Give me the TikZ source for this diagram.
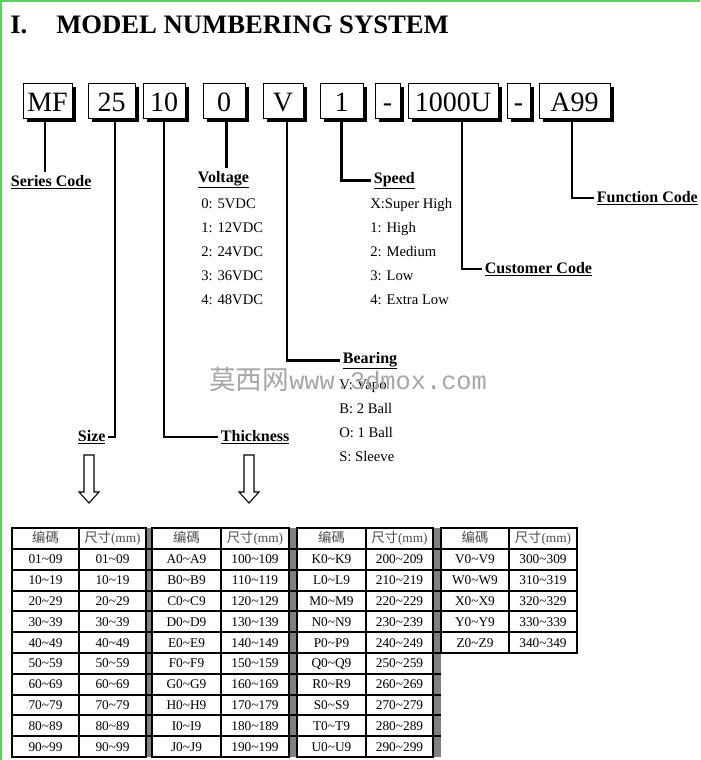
\documentclass[tikz,border=0pt]{standalone}
\usepackage{fontspec}
\setmainfont{Liberation Serif}
\newfontfamily\cjk{Noto Sans CJK SC}
\newfontfamily\wmfont{Liberation Mono}
\usetikzlibrary{shadows}
\definecolor{framegreen}{RGB}{90, 210, 90}
\definecolor{bargray}{RGB}{128, 128, 128}
\newcommand{\tld}{\textasciitilde}

\begin{document}
\begin{tikzpicture}[
    x=0.75pt, y=-0.75pt,
    code/.style={rectangle, draw, thin, fill=white, minimum width=#1, minimum height=26.25pt, inner sep=0pt, font=\fontsize{21}{21}\selectfont, text height=17pt, text depth=0pt, drop shadow={shadow xshift=3pt, shadow yshift=-3pt, fill=black, opacity=1}},
    lead/.style={line width=2pt},
    field/.style={anchor=base west, inner sep=2pt, font=\fontsize{12}{12}\selectfont\bfseries},
    item/.style={anchor=base west, inner sep=0pt, font=\fontsize{11}{11}\selectfont},
    cell/.style={inner sep=0pt, text height=6.6pt, text depth=0pt, font=\fontsize{10}{10}\selectfont},
    head/.style={cell, text=black!70},
    grid/.style={line width=1.5pt},
    hollow/.style={draw, line width=0.8pt, fill=white}
]
\useasboundingbox (0,0) rectangle (700,760);
\draw[framegreen, line width=1.5pt] (0.5,760) -- (0.5,0.5) -- (700,0.5);

\node[anchor=base west, inner sep=0pt, font=\fontsize{20}{20}\selectfont\bfseries] (num) at (10,33) {I.};
\node[anchor=base west, inner sep=0pt, font=\fontsize{20}{20}\selectfont\bfseries] (title) at (56,33) {MODEL NUMBERING SYSTEM};

% code boxes
\node[code=36.75pt] (mf) at (47.5,100.5) {MF};
\node[code=35.25pt] (s25) at (111.5,100.5) {25};
\node[code=31.5pt] (s10) at (164,100.5) {10};
\node[code=31.5pt] (s0) at (224,100.5) {0};
\node[code=30pt] (sv) at (283,100.5) {V};
\node[code=32.25pt] (s1) at (341.5,100.5) {1};
\node[code=18.75pt] (d1) at (387.5,100.5) {-};
\node[code=67.5pt] (cust) at (453,100.5) {1000U};
\node[code=17.25pt] (d2) at (518.5,100.5) {-};
\node[code=53.25pt] (a99) at (574.5,100.5) {A99};

% field names
\node[field] (series) at (8,186) {\underline{Series Code}};
\node[field] (size) at (75,441) {\underline{Size}};
\node[field] (thick) at (218,441) {\underline{Thickness}};
\node[field] (volt) at (195,182) {\underline{Voltage}};
\node[field] (bear) at (340,363) {\underline{Bearing}};
\node[field] (speed) at (371,183) {\underline{Speed}};
\node[field] (custl) at (482,273) {\underline{Customer Code}};
\node[field] (func) at (594,202) {\underline{Function Code}};

\draw[lead] ([xshift=-2pt]mf.south) -- ([xshift=-2pt]mf.south |- series.north);
\draw[lead] ([xshift=2.5pt]s25.south) |- (size.east);
\draw[lead] (s10.south) |- (thick.west);
\draw[lead] ([xshift=2pt]s0.south) -- ([xshift=2pt]s0.south |- volt.north);
\draw[lead] ([xshift=3pt]sv.south) |- (bear.west);
\draw[lead] (s1.south) |- (speed.west);
\draw[lead] ([xshift=6.75pt]cust.south) |- (custl.west);
\draw[lead] ([xshift=-2pt]a99.south) |- (func.west);

% options
\foreach \t [count=\i from 0] in {0: 5VDC, 1: 12VDC, 2: 24VDC, 3: 36VDC, 4: 48VDC}
    \node[item] (volt\i) at (201,208+24*\i) {\t};
\foreach \t [count=\i from 0] in {X:Super High, 1: High, 2: Medium, 3: Low, 4: Extra Low}
    \node[item] (speed\i) at (370,208+24*\i) {\t};
\foreach \t [count=\i from 0] in {V: Vapo, B: 2 Ball, O: 1 Ball, S: Sleeve}
    \node[item] (bear\i) at (339,389+24*\i) {\t};

% watermark
\node[anchor=west, inner sep=0pt, text=black!35] (wm) at (209,379) {{\cjk\fontsize{20}{20}\selectfont 莫西网}{\wmfont\fontsize{19}{19}\selectfont www.3dmox.com}};

% hollow arrows
\foreach \ax in {89, 249}
    \draw[hollow] (\ax-5,455) -- (\ax+5,455) -- (\ax+5,492) -- (\ax+10,492) -- (\ax,503) -- (\ax-10,492) -- (\ax-5,492) -- cycle;

% size table
\foreach \xa/\xb in {146/152, 289/297, 433/441}
    \fill[bargray] (\xa,528) rectangle (\xb,757);
\foreach \xa/\xm/\xb in {12/79/146, 152/221/289, 297/366/433} {
    \draw[grid] (\xa,528) rectangle (\xb,757);
    \draw[grid] (\xm,528) -- (\xm,757);
}
\foreach \r in {0,...,9}
    \draw[grid] (12,549+20.8*\r) -- (441,549+20.8*\r);
\draw[grid] (441,528) rectangle (577,653);
\draw[grid] (509,528) -- (509,653);
\foreach \r in {0,...,4}
    \draw[grid] (441,549+20.8*\r) -- (577,549+20.8*\r);

\foreach \cx/\sx/\g in {45.5/112.5/1, 186.5/255/2, 331.5/399.5/3, 475/543/4} {
    \node[head] (h\g c) at (\cx,538.5) {{\cjk 编碼}};
    \node[head] (h\g s) at (\sx,538.5) {{\cjk 尺寸}(mm)};
}
\foreach \a/\b [count=\r] in {01/09, 10/19, 20/29, 30/39, 40/49, 50/59, 60/69, 70/79, 80/89, 90/99} {
    \node[cell] (g1c\r) at (45.5,538.6+20.8*\r) {\a\tld\b};
    \node[cell] (g1s\r) at (112.5,538.6+20.8*\r) {\a\tld\b};
}
\foreach \ltr/\dec [count=\r] in {A/10, B/11, C/12, D/13, E/14, F/15, G/16, H/17, I/18, J/19} {
    \node[cell] (g2c\r) at (186.5,538.6+20.8*\r) {\ltr0\tld\ltr9};
    \node[cell] (g2s\r) at (255,538.6+20.8*\r) {\dec0\tld\dec9};
}
\foreach \ltr/\dec [count=\r] in {K/20, L/21, M/22, N/23, P/24, Q/25, R/26, S/27, T/28, U/29} {
    \node[cell] (g3c\r) at (331.5,538.6+20.8*\r) {\ltr0\tld\ltr9};
    \node[cell] (g3s\r) at (399.5,538.6+20.8*\r) {\dec0\tld\dec9};
}
\foreach \ltr/\dec [count=\r] in {V/30, W/31, X/32, Y/33, Z/34} {
    \node[cell] (g4c\r) at (475,538.6+20.8*\r) {\ltr0\tld\ltr9};
    \node[cell] (g4s\r) at (543,538.6+20.8*\r) {\dec0\tld\dec9};
}

\end{tikzpicture}
\end{document}
